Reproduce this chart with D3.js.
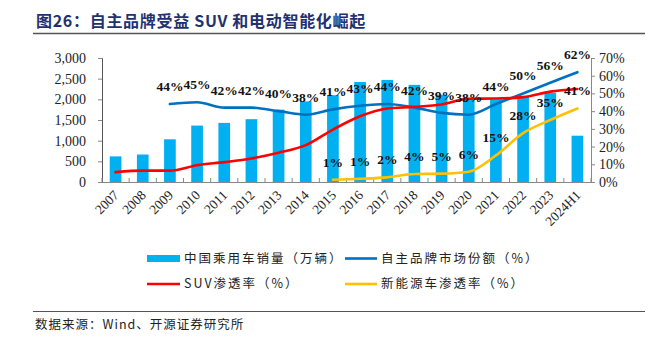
<!DOCTYPE html>
<html><head><meta charset="utf-8">
<script src="https://cdn.jsdelivr.net/npm/d3@7"></script>
<style>
body{margin:0;background:#fff;}
svg{display:block;}
</style></head>
<body><svg id="c" width="662" height="342"></svg>
<script>
const categories = ["2007","2008","2009","2010","2011","2012","2013","2014","2015","2016","2017","2018","2019","2020","2021","2022","2023","2024H1"];
const sales = [620,665,1033,1365,1430,1520,1750,1950,2100,2420,2470,2350,2110,1990,2000,2060,2160,1120];
const brandShare = [null,null,44,45,42,42,40,38,41,43,44,42,39,38,44,50,56,62];
const suvRate = [5.6,6.4,6.4,9.5,11.2,13.3,16.5,20.8,29.6,37.1,41.5,42.4,43.8,47.0,47.1,47.9,51.0,52.5];
const nevRate = [null,null,null,null,null,null,null,null,1.3,1.8,2.6,4.5,4.7,5.8,15.0,27.6,35.0,41.5];
const nevLabels = [null,null,null,null,null,null,null,null,1,1,2,4,5,6,15,28,35,41];
const leftTicks = [0,500,1000,1500,2000,2500,3000];
const rightTicks = [0,10,20,30,40,50,60,70];
const legendItems = ["中国乘用车销量（万辆）","自主品牌市场份额（%）","SUV渗透率（%）","新能源车渗透率（%）"];
const title = "图26：自主品牌受益 SUV 和电动智能化崛起";
const source = "数据来源：Wind、开源证券研究所";

const svg = d3.select("#c");
const L = 102, R = 591, T = 58, B = 182;
const serif = "'Liberation Serif','DejaVu Serif',serif";
const cjk = "'Noto Sans CJK SC','Noto Sans',sans-serif";

const x = d3.scaleBand().domain(categories).range([L, R]).paddingInner(0.57).paddingOuter(0.285);
const xb = d3.scaleBand().domain(categories).range([L, R]);
const yL = d3.scaleLinear().domain([0,3000]).range([B, T]);
const yR = d3.scaleLinear().domain([0,70]).range([B, T]);

// title
svg.append("text").attr("x",36).attr("y",27).attr("fill","#1f3270")
  .attr("font-family",cjk).attr("font-weight","bold").attr("font-size",16).attr("letter-spacing",0.7)
  .text(title);
svg.append("line").attr("x1",33).attr("x2",645).attr("y1",33.5).attr("y2",33.5).attr("stroke","#555").attr("stroke-width",1.3);

// bars
svg.append("g").selectAll("rect").data(sales).join("rect")
  .attr("x",(d,i)=>x(categories[i])).attr("width",x.bandwidth())
  .attr("y",d=>yL(d)).attr("height",d=>B-yL(d)).attr("fill","#00b0f0");

// axes
const gl = svg.append("g").attr("transform",`translate(${L},0)`)
  .call(d3.axisLeft(yL).tickValues(leftTicks).tickSize(4).tickPadding(12).tickFormat(d3.format(",")));
const gr = svg.append("g").attr("transform",`translate(${R},0)`)
  .call(d3.axisRight(yR).tickValues(rightTicks).tickSize(4).tickPadding(4).tickFormat(d=>d+"%"));
const gb = svg.append("g").attr("transform",`translate(0,${B})`)
  .call(d3.axisBottom(xb).tickSize(0).tickFormat(""));
svg.append("g").selectAll("line").data(d3.range(categories.length+1)).join("line")
  .attr("x1",i=>L+i*xb.step()).attr("x2",i=>L+i*xb.step())
  .attr("y1",B).attr("y2",B-4).attr("stroke","#888");
[gl,gr,gb].forEach(g=>{
  g.selectAll(".domain").attr("stroke","#888");
  g.selectAll(".tick line").attr("stroke","#888");
  g.selectAll("text").attr("font-family",serif).attr("font-size",14).attr("fill","#222");
});
gl.select(".domain").attr("stroke","#555");
svg.append("g").selectAll("text").data(categories).join("text")
  .attr("transform",d=>`translate(${xb(d)+xb.bandwidth()/2+4},${B+14}) rotate(-45)`)
  .attr("text-anchor","end").attr("font-family",serif).attr("font-size",13.5).attr("fill","#222")
  .text(d=>d);

// lines
function drawLine(vals, color){
  const line = d3.line().defined(d=>d!=null)
    .x((d,i)=>xb(categories[i])+xb.bandwidth()/2).y(d=>yR(d)).curve(d3.curveMonotoneX);
  svg.append("path").datum(vals).attr("d",line).attr("fill","none")
    .attr("stroke",color).attr("stroke-width",2.6).attr("stroke-linejoin","round").attr("stroke-linecap","round");
}
drawLine(brandShare,"#0070c0");
drawLine(suvRate,"#ff0000");
drawLine(nevRate,"#ffc000");

function drawLabels(vals, labels){
  svg.append("g").selectAll("text").data(vals.map((v,i)=>({v,i,l:labels[i]})).filter(d=>d.v!=null)).join("text")
    .attr("x",d=>xb(categories[d.i])+xb.bandwidth()/2).attr("y",d=>yR(d.v)-13)
    .attr("text-anchor","middle").attr("font-family",serif).attr("font-weight","bold")
    .attr("font-size",13.5).attr("fill","#111").text(d=>d.l+"%");
}
drawLabels(brandShare, brandShare);
drawLabels(nevRate, nevLabels);

// legend
const lg = svg.append("g").attr("font-family",cjk).attr("font-size",12.5).attr("fill","#222").attr("letter-spacing",2);
lg.append("rect").attr("x",147).attr("y",255).attr("width",33).attr("height",7).attr("fill","#00b0f0");
lg.append("text").attr("x",184).attr("y",262.5).text(legendItems[0]);
lg.append("line").attr("x1",345).attr("x2",377).attr("y1",258.5).attr("y2",258.5).attr("stroke","#0070c0").attr("stroke-width",2.6);
lg.append("text").attr("x",381).attr("y",262.5).text(legendItems[1]);
lg.append("line").attr("x1",147).attr("x2",180).attr("y1",284).attr("y2",284).attr("stroke","#ff0000").attr("stroke-width",2.6);
lg.append("text").attr("x",184).attr("y",288).text(legendItems[2]);
lg.append("line").attr("x1",345).attr("x2",377).attr("y1",284).attr("y2",284).attr("stroke","#ffc000").attr("stroke-width",2.6);
lg.append("text").attr("x",381).attr("y",288).text(legendItems[3]);

svg.append("line").attr("x1",33).attr("x2",645).attr("y1",311.5).attr("y2",311.5).attr("stroke","#555").attr("stroke-width",1.2);
svg.append("text").attr("x",35).attr("y",329).attr("font-family",cjk).attr("font-size",12.5).attr("fill","#222").attr("letter-spacing",1)
  .text(source);
</script></body></html>
